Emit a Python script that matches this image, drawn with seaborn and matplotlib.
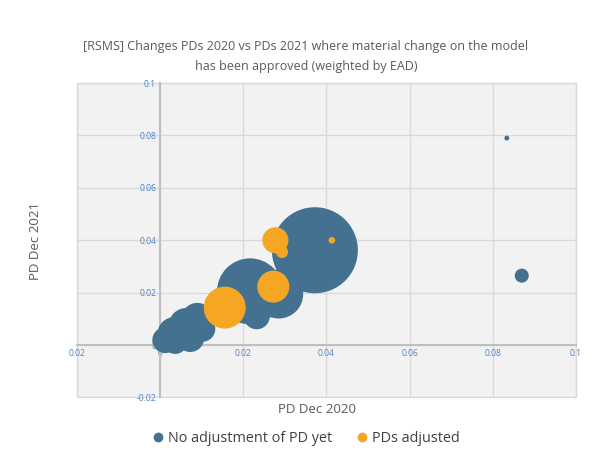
import numpy as np
import pandas as pd
import matplotlib
matplotlib.use('Agg')
import matplotlib.pyplot as plt
import seaborn as sns
from matplotlib.lines import Line2D
from matplotlib.ticker import FixedLocator, FixedFormatter

# data: PD 2020, PD 2021, bubble weight (EAD, relative)
blue_x = [0.0372, 0.0216, 0.0285, 0.0232, 0.0089, 0.0063, 0.0034, 0.0012, 0.0036, 0.0072, 0.0101, 0.0834, 0.0870]
blue_y = [0.0362, 0.0205, 0.0195, 0.0110, 0.0100, 0.0073, 0.0042, 0.0019, 0.0012, 0.0027, 0.0062, 0.0790, 0.0265]
blue_ead = [1850, 1090, 600, 170, 256, 324, 289, 169, 144, 196, 169, 6, 49]

orange_x = [0.0155, 0.0272, 0.0277, 0.0293, 0.0413]
orange_y = [0.0143, 0.0223, 0.0400, 0.0355, 0.0400]
orange_ead = [440, 256, 170, 36, 11]

series_names = ['No adjustment of PD yet', 'PDs adjusted']
x_ticks = [-0.02, 0, 0.02, 0.04, 0.06, 0.08, 0.1]
x_tick_labels = ['0.02', '0', '0.02', '0.04', '0.06', '0.08', '0.1']
y_ticks = [-0.02, 0, 0.02, 0.04, 0.06, 0.08, 0.1]
y_tick_labels = ['-0.02', '0', '0.02', '0.04', '0.06', '0.08', '0.1']

BLUE = '#44718F'
ORANGE = '#F5A623'

df = pd.DataFrame({
    'x': blue_x + orange_x,
    'y': blue_y + orange_y,
    'ead': blue_ead + orange_ead,
    'group': [series_names[0]] * len(blue_x) + [series_names[1]] * len(orange_x),
})

sns.set_style('white')
plt.rcParams['font.family'] = ['Open Sans', 'DejaVu Sans']

fig = plt.figure(figsize=(6.08, 4.54), dpi=100)
ax = fig.add_axes([0.127, 0.1245, 0.82, 0.6925])
ax.set_facecolor('#F2F2F2')

max_ead = max(df['ead'])
# area proportional to EAD (radius in px -> points)
smax = (1.44 ** 2) * max_ead
sns.scatterplot(data=df, x='x', y='y', hue='group', size='ead',
                sizes=(0, smax), size_norm=(0, max_ead),
                palette={series_names[0]: BLUE, series_names[1]: ORANGE},
                linewidth=0, alpha=1, legend=False, ax=ax, zorder=3)

ax.set_xlim(-0.02, 0.1)
ax.set_ylim(-0.02, 0.1)
ax.xaxis.set_major_locator(FixedLocator(x_ticks))
ax.xaxis.set_major_formatter(FixedFormatter(x_tick_labels))
ax.yaxis.set_major_locator(FixedLocator(y_ticks))
ax.yaxis.set_major_formatter(FixedFormatter(y_tick_labels))
ax.grid(True, color='#D9D9D9', linewidth=1)
ax.set_axisbelow(True)

# axes cross at zero like Excel
ax.spines['left'].set_position(('data', 0))
ax.spines['bottom'].set_position(('data', 0))
for side in ['left', 'bottom']:
    ax.spines[side].set_color('#BFBFBF')
    ax.spines[side].set_linewidth(1.5)
    ax.spines[side].set_zorder(2)
for side in ['top', 'right']:
    ax.spines[side].set_visible(False)
ax.patch.set_edgecolor('#D9D9D9')
ax.patch.set_linewidth(1)

ax.tick_params(axis='both', length=0, labelsize=6.2, labelcolor='#4A86C8', pad=3)
ax.set_xlabel('')
ax.set_ylabel('')

fig.text(0.503, 0.876, '[RSMS] Changes PDs 2020 vs PDs 2021 where material change on the model\nhas been approved (weighted by EAD)',
         ha='center', va='center', fontsize=9, color='#595959', linespacing=1.75)
fig.text(0.522, 0.097, 'PD Dec 2020', ha='center', va='center', fontsize=9.5, color='#595959')
fig.text(0.058, 0.47, 'PD Dec 2021', ha='center', va='center', rotation=90, fontsize=9.5, color='#595959')

handles = [Line2D([], [], marker='o', linestyle='', markersize=6, color=BLUE),
           Line2D([], [], marker='o', linestyle='', markersize=6, color=ORANGE)]
fig.legend(handles, series_names, loc='center', bbox_to_anchor=(0.502, 0.035), ncol=2,
           frameon=False, fontsize=10.4, handlelength=1.0, handletextpad=0.15,
           columnspacing=1.6, labelcolor='#404040')

fig.savefig('out.png', dpi=100)
